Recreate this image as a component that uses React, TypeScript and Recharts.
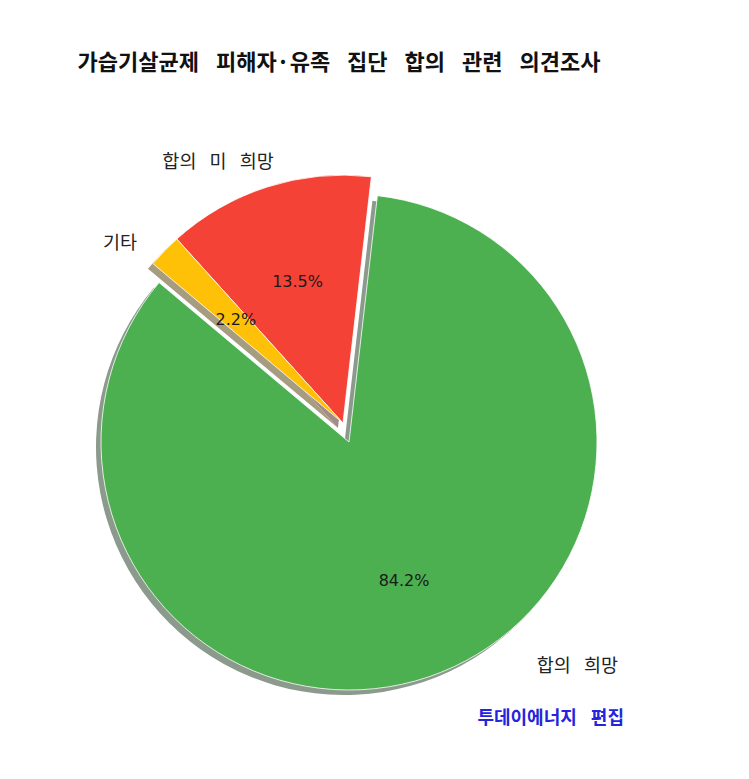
import React from 'react';
import { PieChart, Pie, Cell } from 'recharts';

const categories = ['합의 희망', '합의 미 희망', '기타'];
const shares = [84.2, 13.5, 2.2];
const percentLabels = ['84.2%', '13.5%', '2.2%'];
const explodeFactors = [0, 0.08, 0.08];
// which wedge's mid-angle each explode follows (red and yellow move together)
const explodeDirOf = [0, 1, 1];
const colors = ['#4CAF50', '#F44336', '#FFC107'];
const shadowColors = ['#8b9a8c', '#a48a88', '#a69c80'];
const titleText = '가습기살균제 피해자·유족 집단 합의 관련 의견조사';
const creditText = '투데이에너지 편집';

const W = 749;
const H = 779;
const CX = 349;
const CY = 442;
const R = 248;
const START = 140;
const SHADOW_DX = -5;
const SHADOW_DY = 5;
// name-label placement relative to each wedge centre: [angle deg, radius factor]
const NAME_POS: [number, number][] = [
  [-44.2, 1.285],
  [115.4, 1.174],
  [140.8, 1.16],
];
const PCT_DIST = 0.6;
const RAD = Math.PI / 180;

const data = categories.map((name, i) => ({ name, value: shares[i] }));
const total = shares.reduce((a, b) => a + b, 0);
const mids: number[] = [];
{
  let acc = START;
  shares.forEach((v) => {
    const span = (v / total) * 360;
    mids.push(acc + span / 2);
    acc += span;
  });
}
const centers = mids.map((_, i) => {
  const m = mids[explodeDirOf[i]];
  return {
    x: CX + explodeFactors[i] * R * Math.cos(m * RAD),
    y: CY - explodeFactors[i] * R * Math.sin(m * RAD),
  };
});

const makeLabel = (k: number) => (props: any) => {
  if (props.index !== k) return null;
  const { cx, cy, midAngle, outerRadius } = props;
  const px = cx + outerRadius * PCT_DIST * Math.cos(-midAngle * RAD);
  const py = cy + outerRadius * PCT_DIST * Math.sin(-midAngle * RAD);
  const [a, f] = NAME_POS[k];
  const nx = cx + outerRadius * f * Math.cos(-a * RAD);
  const ny = cy + outerRadius * f * Math.sin(-a * RAD);
  return (
    <g>
      <text
        x={px}
        y={py}
        textAnchor="middle"
        dominantBaseline="central"
        fill="#1a1a1a"
        style={{ fontFamily: 'DejaVu Sans', fontSize: 16 }}
      >
        {percentLabels[k]}
      </text>
      <text
        x={nx}
        y={ny}
        textAnchor="middle"
        dominantBaseline="central"
        fill="#222"
        style={{ fontFamily: '"Noto Sans CJK KR"', fontSize: 18.5, wordSpacing: '9px' }}
      >
        {categories[k]}
      </text>
    </g>
  );
};

export default function App() {
  const order = [0, 1, 2];
  return (
    <div style={{ position: 'absolute', left: 0, top: 0, width: W, height: H, background: '#fff' }}>
      <PieChart width={W} height={H} margin={{ top: 0, right: 0, bottom: 0, left: 0 }}>
        {order.map((k) => (
          <Pie
            key={'shadow' + k}
            data={data}
            dataKey="value"
            nameKey="name"
            cx={centers[k].x + SHADOW_DX}
            cy={centers[k].y + SHADOW_DY}
            innerRadius={0}
            outerRadius={R}
            startAngle={START}
            endAngle={START + 360}
            isAnimationActive={false}
            labelLine={false}
            stroke="none"
          >
            {data.map((_, i) => (
              <Cell key={i} fill={i === k ? shadowColors[k] : 'none'} stroke="none" />
            ))}
          </Pie>
        ))}
        {order.map((k) => (
          <Pie
            key={'wedge' + k}
            data={data}
            dataKey="value"
            nameKey="name"
            cx={centers[k].x}
            cy={centers[k].y}
            innerRadius={0}
            outerRadius={R}
            startAngle={START}
            endAngle={START + 360}
            isAnimationActive={false}
            labelLine={false}
            label={makeLabel(k)}
          >
            {data.map((_, i) => (
              <Cell
                key={i}
                fill={i === k ? colors[k] : 'none'}
                stroke={i === k ? '#ffffff' : 'none'}
                strokeWidth={i === k ? 0.8 : 0}
              />
            ))}
          </Pie>
        ))}
      </PieChart>
      <div
        style={{
          position: 'absolute',
          left: 0,
          top: 46,
          width: 678,
          textAlign: 'center',
          fontFamily: '"Noto Sans CJK KR"',
          fontWeight: 'bold',
          fontSize: 22,
          lineHeight: '28px',
          wordSpacing: '12px',
          color: '#111',
          whiteSpace: 'nowrap',
        }}
      >
        {titleText}
      </div>
      <div
        style={{
          position: 'absolute',
          left: 0,
          top: 703,
          width: 624,
          textAlign: 'right',
          fontFamily: '"Noto Sans CJK KR"',
          fontWeight: 'bold',
          fontSize: 18,
          lineHeight: '26px',
          wordSpacing: '10px',
          color: '#2424dc',
          whiteSpace: 'nowrap',
        }}
      >
        {creditText}
      </div>
    </div>
  );
}
